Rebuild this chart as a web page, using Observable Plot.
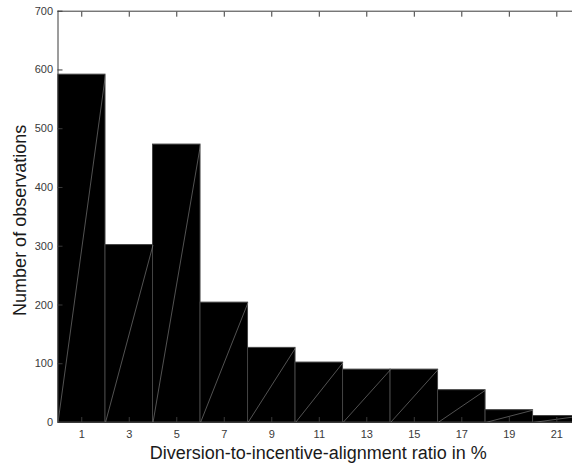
<!DOCTYPE html>
<html>
<head>
<meta charset="utf-8">
<script src="https://cdn.jsdelivr.net/npm/d3@7"></script>
<script src="https://cdn.jsdelivr.net/npm/@observablehq/plot@0.6"></script>
<style>
  html, body { margin: 0; padding: 0; background: #fff; overflow: hidden; }
</style>
</head>
<body>
<div id="chart"></div>
<script>
// Histogram data
const binCenters = [1, 3, 5, 7, 9, 11, 13, 15, 17, 19, 21];
const binEdges = [0, 2, 4, 6, 8, 10, 12, 14, 16, 18, 20, 22];
const counts = [592, 302, 473, 204, 127, 102, 90, 90, 55, 21, 11];
const xTicks = [1, 3, 5, 7, 9, 11, 13, 15, 17, 19, 21];
const yTicks = [0, 100, 200, 300, 400, 500, 600, 700];
const xLabel = "Diversion-to-incentive-alignment ratio in %";
const yLabel = "Number of observations";

const rows = binCenters.map((c, i) => ({
  center: c, lo: binEdges[i], hi: binEdges[i + 1], count: counts[i]
}));

const axisColor = "#3a3a3a";

const chart = Plot.plot({
  width: 572,
  height: 466,
  marginLeft: 57.5,
  marginRight: 0,
  marginTop: 10.7,
  marginBottom: 44,
  x: { domain: [0, 21.66] },
  y: { domain: [0, 700] },
  style: {
    fontFamily: "'Liberation Sans', Arial, Helvetica, sans-serif",
    fontSize: "11px",
    color: "#262626",
    background: "#fff"
  },
  marks: [
    Plot.rectY(rows, { x1: "lo", x2: "hi", y: "count", fill: "#000", stroke: "#444", strokeWidth: 1, clip: true }),
    Plot.link(rows, { x1: "lo", y1: 0, x2: "hi", y2: "count", stroke: "#8a8a8a", strokeWidth: 0.6, clip: true }),
    // frame lines
    Plot.ruleY([0], { stroke: axisColor, strokeWidth: 1 }),
    Plot.ruleY([700], { stroke: axisColor, strokeWidth: 1 }),
    Plot.ruleX([0], { stroke: axisColor, strokeWidth: 1 }),
    // inward ticks
    Plot.axisX({ anchor: "bottom", ticks: xTicks, tickSize: 5, dy: -5, tickFormat: () => "", label: null, stroke: axisColor }),
    Plot.axisX({ anchor: "top", ticks: xTicks, tickSize: 5, dy: 5, tickFormat: () => "", label: null, stroke: axisColor }),
    Plot.axisY({ anchor: "left", ticks: yTicks, tickSize: 5, dx: 5, tickFormat: () => "", label: null, stroke: axisColor }),
    // tick labels
    Plot.axisX({ anchor: "bottom", ticks: xTicks, tickSize: 0, tickPadding: 8, label: null, fill: "#3a3a3a" }),
    Plot.axisY({ anchor: "left", ticks: yTicks, tickSize: 0, tickPadding: 5, label: null, fill: "#3a3a3a" }),
    // axis titles
    Plot.text([xLabel], { frameAnchor: "bottom", text: d => d, dy: 31, dx: 3, fontSize: 18, fill: "#1a1a1a", lineAnchor: "middle", textAnchor: "middle" }),
    Plot.text([yLabel], { frameAnchor: "left", text: d => d, dx: -38, dy: 3.5, rotate: -90, fontSize: 18, fill: "#1a1a1a", lineAnchor: "middle", textAnchor: "middle" })
  ]
});

document.getElementById("chart").appendChild(chart);
</script>
</body>
</html>
